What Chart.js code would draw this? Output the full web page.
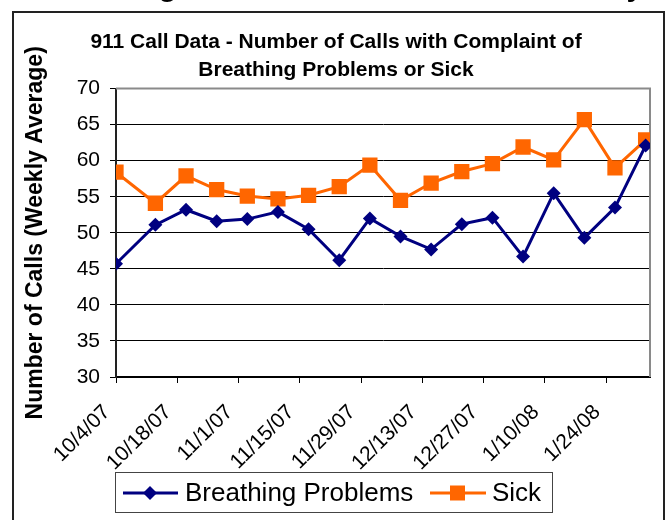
<!DOCTYPE html>
<html>
<head>
<meta charset="utf-8">
<script src="https://cdn.jsdelivr.net/npm/chart.js@4/dist/chart.umd.min.js"></script>
<style>
  html, body { margin: 0; padding: 0; background: #fff; }
  #wrap { position: relative; width: 668px; height: 520px; }
</style>
</head>
<body>
<div id="wrap"><canvas id="myChart" width="668" height="520"></canvas></div>
<script>
// weekly points (date of each weekly average)
const weekDates = ['10/4/07', '10/13/07', '10/20/07', '10/27/07', '11/3/07', '11/10/07',
  '11/17/07', '11/24/07', '12/1/07', '12/8/07', '12/15/07', '12/22/07', '12/29/07',
  '1/5/08', '1/12/08', '1/19/08', '1/26/08', '2/2/08'];
const breathing = [45.7, 51.1, 53.2, 51.6, 51.9, 52.9, 50.5, 46.2, 52.0, 49.5, 47.7,
  51.2, 52.1, 46.7, 55.5, 49.3, 53.5, 62.1];
const sick = [58.4, 54.1, 57.9, 56.0, 55.1, 54.7, 55.2, 56.4, 59.4, 54.5, 56.9,
  58.5, 59.6, 61.9, 60.1, 65.7, 59.0, 62.9];
const tickLabels = ['10/4/07', '10/18/07', '11/1/07', '11/15/07', '11/29/07',
  '12/13/07', '12/27/07', '1/10/08', '1/24/08'];

const FONT = "'Liberation Sans', Arial, sans-serif";

function toDay(s) {
  const p = s.split('/');
  return Date.UTC(2000 + (+p[2]), p[0] - 1, +p[1]) / 86400000;
}
const day0 = toDay(weekDates[0]);
const days = weekDates.map(d => toDay(d) - day0);

// frame, page heading remnant, plot border, legend
const decor = {
  id: 'decor',
  beforeDraw(chart) {
    const ctx = chart.ctx;
    ctx.save();
    ctx.fillStyle = '#000';
    ctx.font = 'bold 30px ' + FONT;
    ctx.textAlign = 'center';
    ctx.textBaseline = 'alphabetic';
    ctx.fillText('Breathing Problems vs Sick Calls - Weekly', 340, -4);
    ctx.strokeStyle = '#222';
    ctx.lineWidth = 2;
    ctx.strokeRect(13, 12, 651, 600);
    ctx.restore();
  },
  beforeDatasetsDraw(chart) {
    const a = chart.chartArea, ctx = chart.ctx;
    ctx.save();
    ctx.strokeStyle = '#8a8a8a';
    ctx.lineWidth = 2;
    ctx.beginPath();
    ctx.moveTo(a.left, a.top);
    ctx.lineTo(a.right, a.top);
    ctx.lineTo(a.right, a.bottom);
    ctx.stroke();
    ctx.restore();
  },
  afterDraw(chart) {
    const ctx = chart.ctx;
    ctx.save();
    ctx.strokeStyle = '#444';
    ctx.lineWidth = 1;
    ctx.strokeRect(115.5, 472.5, 437, 40);
    const y = 493;
    // breathing
    ctx.strokeStyle = '#000080';
    ctx.lineWidth = 3;
    ctx.beginPath(); ctx.moveTo(123, y); ctx.lineTo(178, y); ctx.stroke();
    ctx.fillStyle = '#000080';
    ctx.beginPath();
    ctx.moveTo(150 - 7, y); ctx.lineTo(150, y - 7); ctx.lineTo(150 + 7, y); ctx.lineTo(150, y + 7);
    ctx.closePath(); ctx.fill();
    // sick
    ctx.strokeStyle = '#FF6600';
    ctx.beginPath(); ctx.moveTo(430, y); ctx.lineTo(486, y); ctx.stroke();
    ctx.fillStyle = '#FF6600';
    ctx.fillRect(450, y - 7.5, 15, 15);
    ctx.fillStyle = '#000';
    ctx.font = '26px ' + FONT;
    ctx.textAlign = 'left';
    ctx.textBaseline = 'middle';
    ctx.fillText('Breathing Problems', 185, y + 1);
    ctx.fillText('Sick', 492, y + 1);
    ctx.restore();
  }
};

const ctx = document.getElementById('myChart').getContext('2d');
const myChart = new Chart(ctx, {
  type: 'line',
  data: {
    datasets: [{
      label: 'Breathing Problems',
      data: days.map((d, i) => ({ x: d, y: breathing[i] })),
      borderColor: '#000080',
      backgroundColor: '#000080',
      borderWidth: 3,
      pointStyle: 'rectRot',
      pointRadius: 7,
      pointBorderWidth: 0,
      tension: 0
    }, {
      label: 'Sick',
      data: days.map((d, i) => ({ x: d, y: sick[i] })),
      borderColor: '#FF6600',
      backgroundColor: '#FF6600',
      borderWidth: 3,
      pointStyle: 'rect',
      pointRadius: 10.8,
      pointBorderWidth: 0,
      tension: 0
    }]
  },
  options: {
    responsive: false,
    animation: false,
    layout: { padding: { left: 22, right: 18, top: 0, bottom: 0 } },
    plugins: {
      legend: { display: false },
      tooltip: { enabled: false },
      title: {
        display: true,
        text: ['911 Call Data - Number of Calls with Complaint of', 'Breathing Problems or Sick'],
        color: '#000',
        font: { family: FONT, size: 21, weight: 'bold', lineHeight: 1.3 },
        padding: { top: 29, bottom: 5 }
      }
    },
    scales: {
      x: {
        type: 'linear',
        min: 0,
        max: 122,
        afterFit: s => { s.height = 143; },
        grid: { drawOnChartArea: false, drawTicks: true, tickLength: 6, color: '#000' },
        border: { color: '#000', width: 2 },
        ticks: {
          stepSize: 14,
          includeBounds: false,
          autoSkip: false,
          minRotation: 45,
          maxRotation: 45,
          padding: 17,
          labelOffset: -9,
          color: '#000',
          font: { family: FONT, size: 21 },
          callback: (v, i) => tickLabels[i]
        }
      },
      y: {
        min: 30,
        max: 70,
        afterFit: s => { s.width = 94; },
        grid: { color: '#000', lineWidth: 1, tickLength: 6 },
        border: { color: '#222', width: 2 },
        ticks: {
          stepSize: 5,
          padding: 10,
          color: '#000',
          font: { family: FONT, size: 21 }
        },
        title: {
          display: true,
          text: 'Number of Calls (Weekly Average)',
          color: '#000',
          font: { family: FONT, size: 23, weight: 'bold' },
          padding: { top: 0, bottom: 0 }
        }
      }
    }
  },
  plugins: [decor]
});
</script>
</body>
</html>
